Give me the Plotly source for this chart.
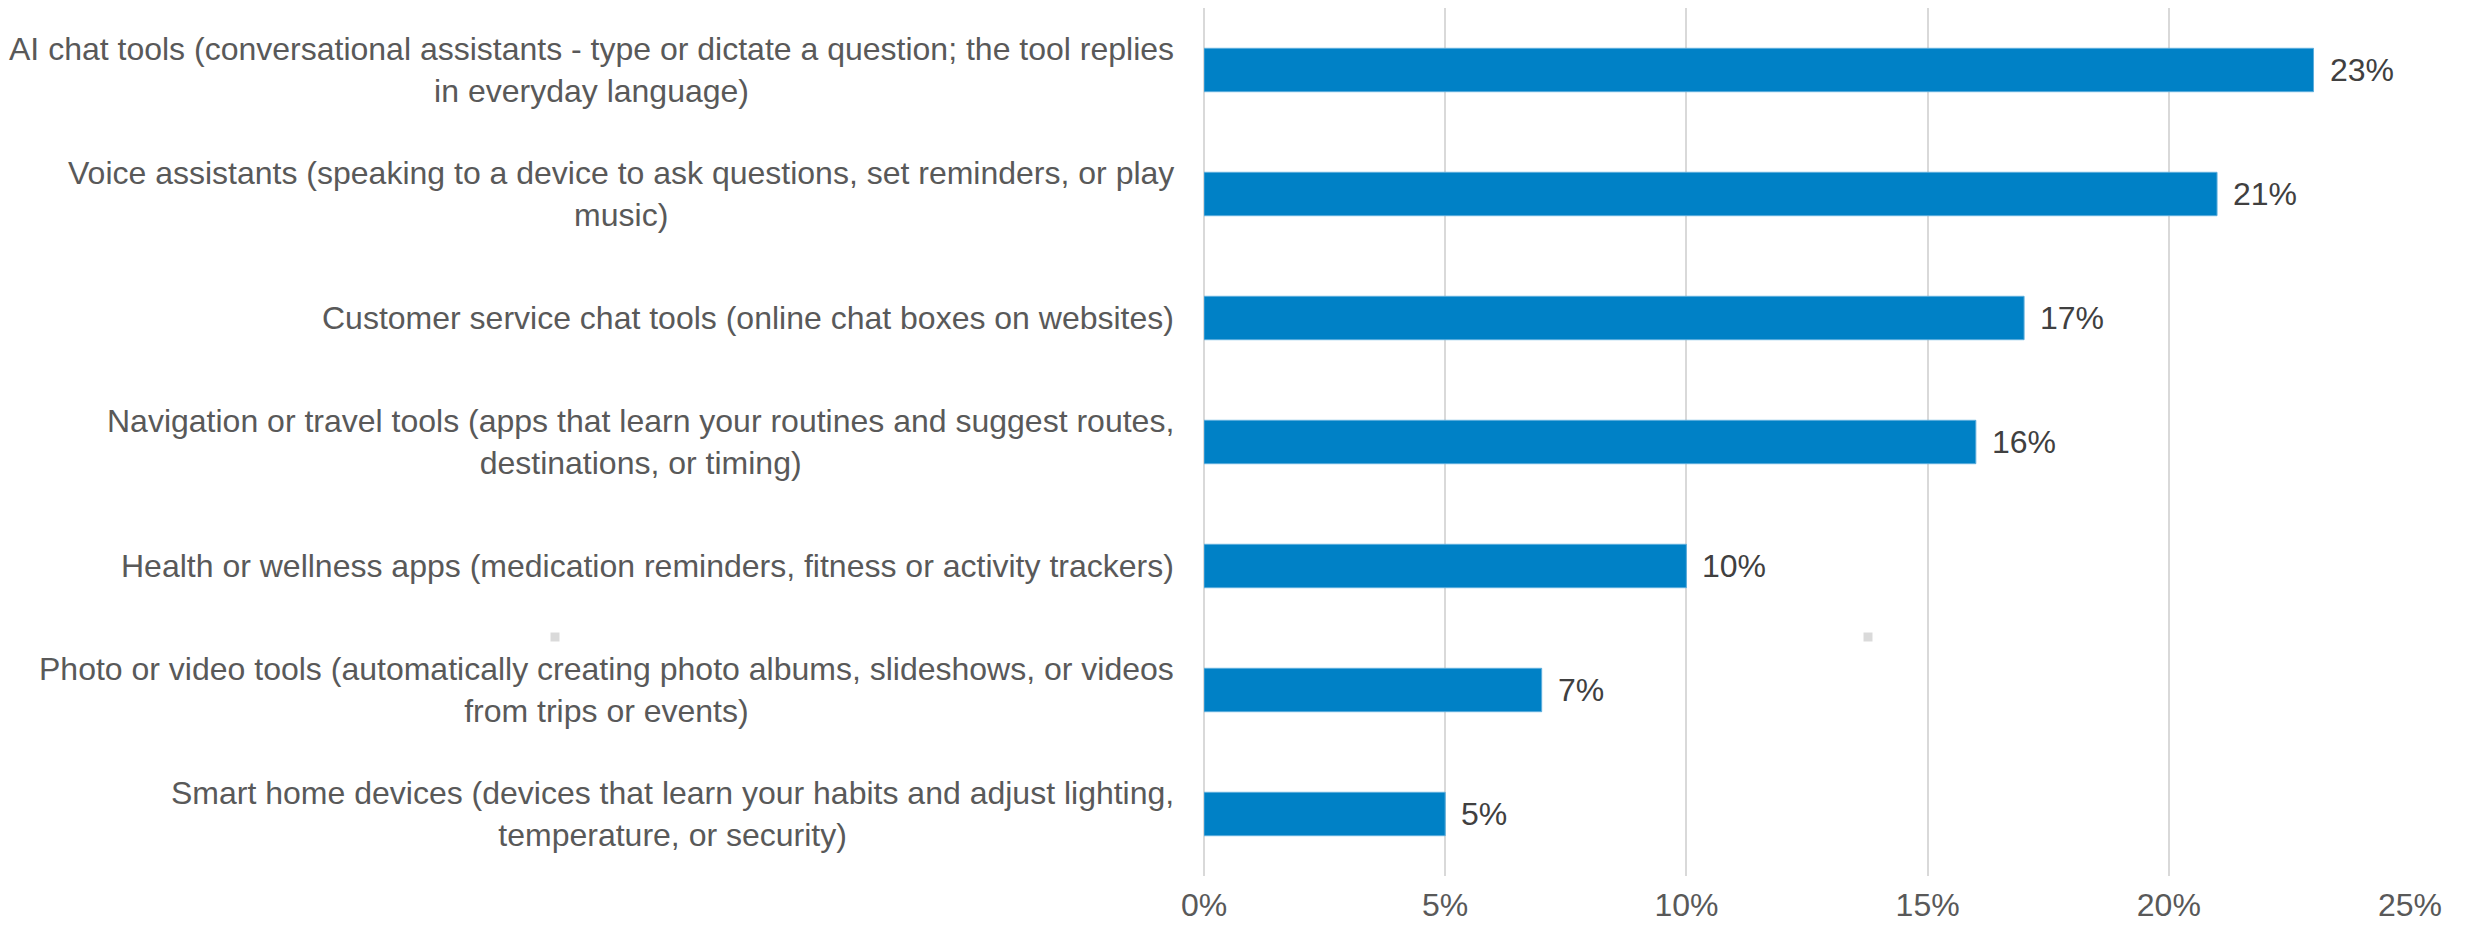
import plotly.graph_objects as go

# Survey results: share of respondents using each type of AI-powered tool
categories = [
    "AI chat tools (conversational assistants - type or dictate a question; the tool replies<br>in everyday language)",
    "Voice assistants (speaking to a device to ask questions, set reminders, or play<br>music)",
    "Customer service chat tools (online chat boxes on websites)",
    "Navigation or travel tools (apps that learn your routines and suggest routes,<br>destinations, or timing)",
    "Health or wellness apps (medication reminders, fitness or activity trackers)",
    "Photo or video tools (automatically creating photo albums, slideshows, or videos<br>from trips or events)",
    "Smart home devices (devices that learn your habits and adjust lighting,<br>temperature, or security)",
]
values = [23, 21, 17, 16, 10, 7, 5]
tick_values = [0, 5, 10, 15, 20, 25]
tick_labels = ["0%", "5%", "10%", "15%", "20%", "25%"]

FONT = "Liberation Sans, Arial, sans-serif"
BAR_COLOR = "#0081C6"
GRID_COLOR = "#D9D9D9"

fig = go.Figure()
fig.add_trace(go.Bar(
    x=values,
    y=categories,
    orientation="h",
    marker=dict(color=BAR_COLOR, line=dict(color="#5DAEDD", width=1)),
    hoverinfo="skip",
))

annotations = []
# Category labels: right-aligned block, lines centred within it
for cat in categories:
    annotations.append(dict(
        x=0, y=cat, xref="x", yref="y",
        text=cat, showarrow=False,
        xanchor="right", yanchor="middle", align="center",
        xshift=-28,
        font=dict(family=FONT, size=32, color="#595959"),
    ))
# Value labels at the end of each bar
for cat, v in zip(categories, values):
    annotations.append(dict(
        x=v, y=cat, xref="x", yref="y",
        text=f"{v}%", showarrow=False,
        xanchor="left", yanchor="middle",
        xshift=14,
        font=dict(family=FONT, size=32, color="#404040"),
    ))

# Small grey marker squares in the background
shapes = []
for cx, cy in [(555, 637), (1868, 637)]:
    shapes.append(dict(
        type="rect", xref="paper", yref="paper",
        x0=(cx - 4.5 - 1204) / 1206, x1=(cx + 4.5 - 1204) / 1206,
        y0=(876 - cy - 4.5) / 868, y1=(876 - cy + 4.5) / 868,
        fillcolor="#DADADA", line=dict(width=0), layer="below",
    ))

fig.update_layout(
    width=2468, height=926,
    margin=dict(l=1204, r=58, t=8, b=50),
    paper_bgcolor="white", plot_bgcolor="white",
    showlegend=False,
    bargap=0.65,
    annotations=annotations,
    shapes=shapes,
    xaxis=dict(
        range=[0, 25], tickvals=tick_values, ticktext=tick_labels,
        showgrid=True, gridcolor=GRID_COLOR, gridwidth=2,
        zeroline=True, zerolinecolor=GRID_COLOR, zerolinewidth=2,
        showline=False, ticks="",
        tickfont=dict(family=FONT, size=32, color="#595959"),
        ticklabelstandoff=7,
        automargin=False,
        fixedrange=True,
    ),
    yaxis=dict(
        categoryorder="array", categoryarray=categories,
        autorange="reversed",
        showticklabels=False, showgrid=False, zeroline=False,
        showline=False, ticks="",
        automargin=False,
        fixedrange=True,
    ),
)

fig.write_html("out.html")
